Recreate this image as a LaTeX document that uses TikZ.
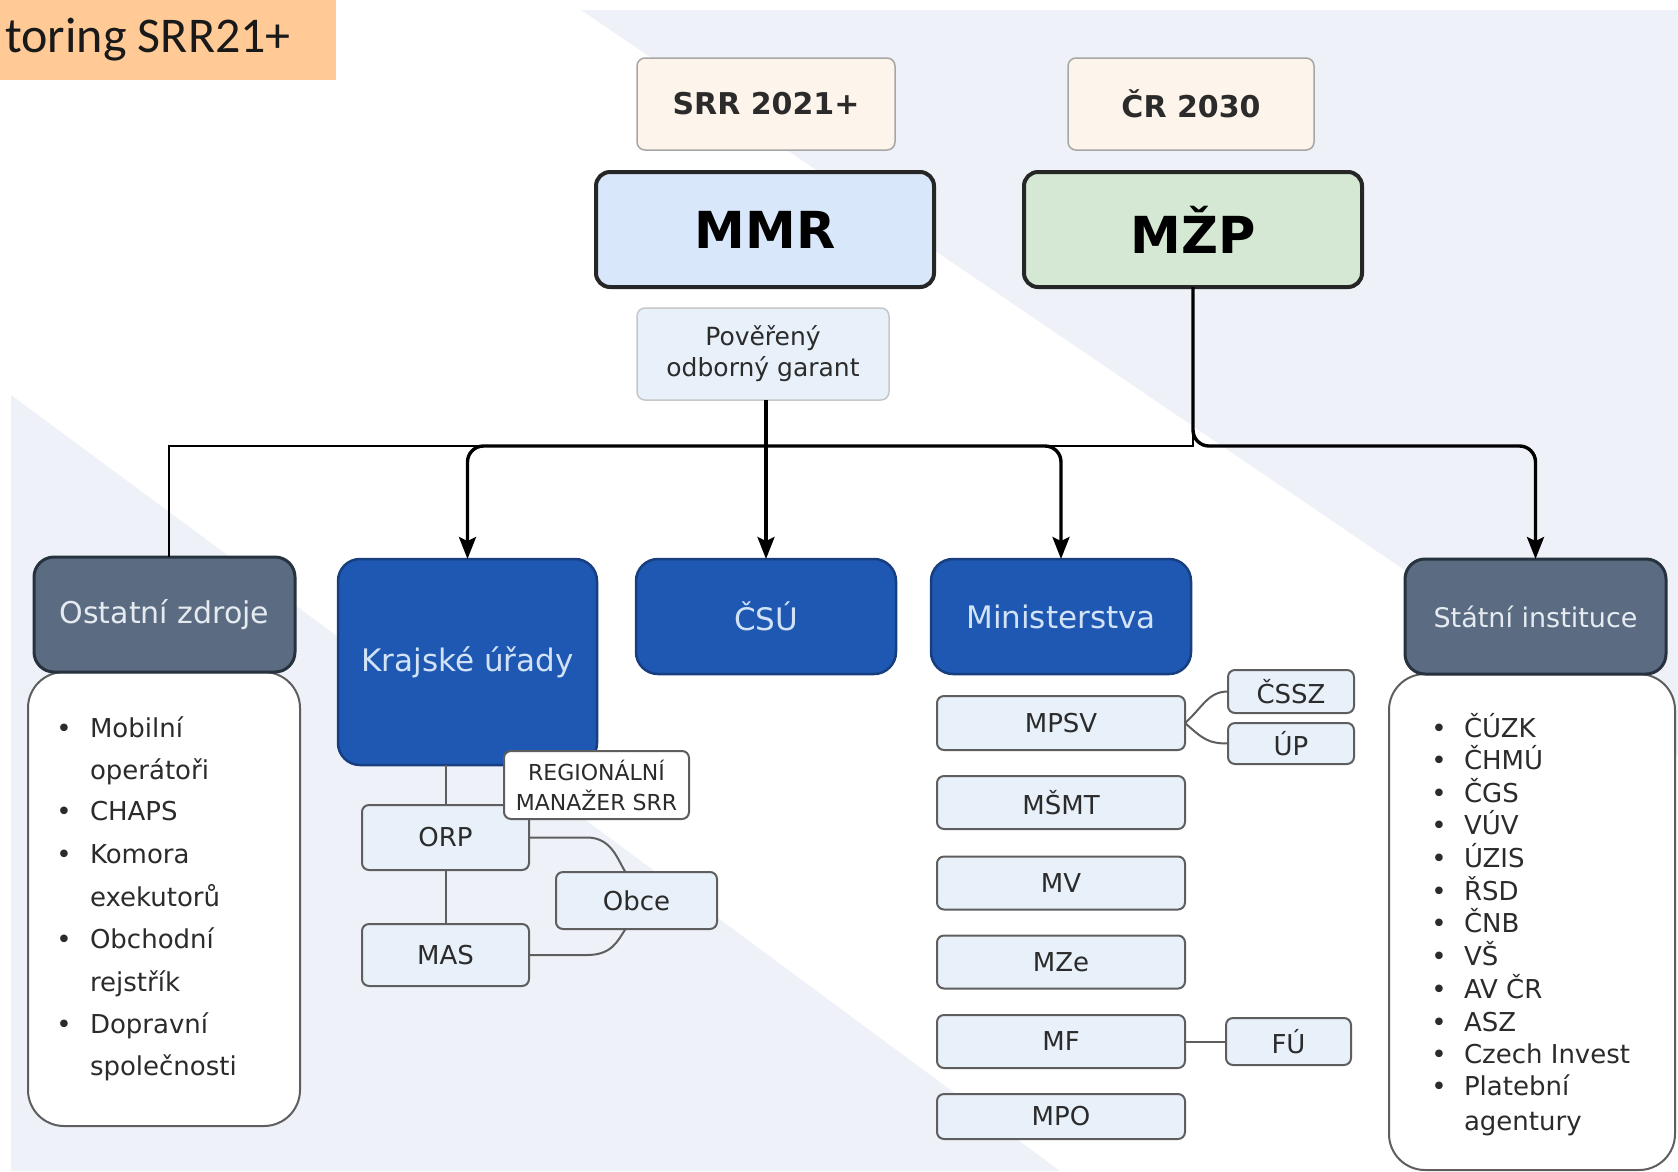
\documentclass[tikz,border=0pt]{standalone}
\usepackage{fontspec}
\setmainfont{DejaVu Sans}
\newfontfamily\titlefont{Carlito}
\usetikzlibrary{arrows.meta,calc}

\definecolor{bggray}{HTML}{EEF1F8}
\definecolor{peach}{HTML}{FFCA96}
\definecolor{creamfill}{HTML}{FDF4EB}
\definecolor{mmrfill}{HTML}{D9E7FA}
\definecolor{mzpfill}{HTML}{D5E8D4}
\definecolor{lightfill}{HTML}{E8F0FA}
\definecolor{bluefill}{HTML}{1F58B2}
\definecolor{blueline}{HTML}{173F80}
\definecolor{slatefill}{HTML}{5B6C82}
\definecolor{slateline}{HTML}{27323F}
\definecolor{graybord}{HTML}{5E5E5E}
\definecolor{txt}{HTML}{2B2B2B}
\definecolor{bluetxt}{HTML}{D3E3F7}
\definecolor{slatetxt}{HTML}{E6EBF1}

\newcommand{\fsz}[2]{\fontsize{#1}{#2}\selectfont}

\tikzset{
  base/.style={inner sep=0, outer sep=0, align=center, text=txt},
  creambox/.style={base, rectangle, rounded corners=8, draw=black!35, line width=1.5, fill=creamfill, font=\bfseries\fsz{30}{36}},
  bigbox/.style={base, rectangle, rounded corners=14, draw=black!85, line width=4, font=\bfseries\fsz{51}{60}, text=black},
  garantbox/.style={base, rectangle, rounded corners=8, draw=black!22, line width=1.5, fill=lightfill, font=\fsz{25}{31}},
  bluehead/.style={base, rectangle, rounded corners=22, fill=bluefill, draw=blueline, line width=2.5, text=bluetxt, font=\fsz{31}{36}},
  slatehead/.style={base, rectangle, rounded corners=20, fill=slatefill, draw=slateline, line width=3, text=slatetxt, font=\fsz{30}{36}},
  listbox/.style={base, rectangle, rounded corners=36, fill=white, draw=graybord, line width=2},
  subbox/.style={base, rectangle, rounded corners=7, fill=lightfill, draw=graybord, line width=2, font=\fsz{26}{31}},
  regbox/.style={base, rectangle, rounded corners=7, fill=white, draw=graybord, line width=2, font=\fsz{22}{30}},
  listtxt/.style={inner sep=0, outer sep=0, anchor=west, text=txt, font=\fsz{26}{31}, text height=19, text depth=6},
  bullettxt/.style={inner sep=0, outer sep=0, anchor=center, text=txt, font=\fsz{26}{31}, text height=19, text depth=6},
  thinline/.style={line width=2, draw=black},
  thickline/.style={line width=3.4, draw=black},
  arr/.style={-{Stealth[length=22pt,width=17pt,inset=4pt]}},
  conn/.style={line width=2, draw=graybord}
}

\begin{document}
\begin{tikzpicture}[x=1pt,y=-1pt]
% background
\fill[white] (0,0) rectangle (1678,1171);
\fill[bggray] (581,10) -- (1678,10) -- (1678,756) -- cycle;
\fill[bggray] (11,395) -- (1060,1171) -- (11,1171) -- cycle;
\useasboundingbox (0,0) rectangle (1678,1171);

% title
\node[fill=peach, inner sep=0, minimum width=336, minimum height=80, anchor=north west] (titlebox) at (0,0) {};
\node[anchor=base east, inner sep=0, font=\titlefont\fsz{50}{56}, text=black!90] (title) at (291,52) {toring SRR21+};

% top boxes
\node[creambox, minimum width=258, minimum height=92] (srr) at (766,104) {SRR 2021+};
\node[creambox, minimum width=246, minimum height=92] (cr) at (1191,104) {ČR 2030};
\node[bigbox, fill=mmrfill, minimum width=338, minimum height=115] (mmr) at (765,229.5) {MMR};
\node[bigbox, fill=mzpfill, minimum width=338, minimum height=115] (mzp) at (1193,229.5) {MŽP};
\node[garantbox, minimum width=252, minimum height=92] (garant) at (763,354) {Pověřený\\odborný garant};

% list boxes (behind headers)
\node[listbox, minimum width=272, minimum height=454] (ostL) at (164,899) {};
\node[listbox, minimum width=286, minimum height=496] (statL) at (1532,922) {};

% headers
\node[slatehead, minimum width=261, minimum height=115] (ostH) at (164.5,614.5) {Ostatní zdroje};
\node[bluehead, minimum width=259, minimum height=206] (krajske) at (467.5,662) {Krajské úřady};
\node[bluehead, minimum width=260, minimum height=115] (csu) at (766,616.5) {ČSÚ};
\node[bluehead, minimum width=260, minimum height=115] (mini) at (1061,616.5) {Ministerstva};
\node[slatehead, minimum width=261, minimum height=115, font=\fsz{27}{32}] (statH) at (1535.5,616.5) {Státní instituce};

% Krajske sub-boxes
\node[subbox, minimum width=167, minimum height=65] (orp) at (445.5,837.5) {ORP};
\node[subbox, minimum width=161, minimum height=57] (obce) at (636.5,900.5) {Obce};
\node[subbox, minimum width=167, minimum height=62] (mas) at (445.5,955) {MAS};
\node[regbox, minimum width=185, minimum height=68] (reg) at (596.5,785) {REGIONÁLNÍ\\MANAŽER SRR};

% Ministerstva sub-boxes
\node[subbox, minimum width=248, minimum height=54] (mpsv) at (1061,723) {MPSV};
\node[subbox, minimum width=248, minimum height=53] (msmt) at (1061,802.5) {MŠMT};
\node[subbox, minimum width=248, minimum height=53] (mv) at (1061,883) {MV};
\node[subbox, minimum width=248, minimum height=53] (mze) at (1061,962) {MZe};
\node[subbox, minimum width=248, minimum height=53] (mf) at (1061,1041.5) {MF};
\node[subbox, minimum width=248, minimum height=45] (mpo) at (1061,1116.5) {MPO};
\node[subbox, minimum width=126, minimum height=43] (cssz) at (1291,691.5) {ČSSZ};
\node[subbox, minimum width=126, minimum height=41] (up) at (1291,743.5) {ÚP};
\node[subbox, minimum width=125, minimum height=47] (fu) at (1288.5,1041.5) {FÚ};

% Ostatni list
\foreach \y/\t/\b in {731/Mobilní/1, 773/operátoři/0, 814/CHAPS/1, 857/Komora/1, 900/exekutorů/0, 942/Obchodní/1, 985/rejstřík/0, 1027/Dopravní/1, 1069/společnosti/0}{
  \node[listtxt] (ot\y) at (90,\y) {\t};
  \ifnum\b=1 \node[bullettxt] (ob\y) at (64,\y) {•};\fi
}
% Statni list
\foreach \y/\t/\b in {731/ČÚZK/1, 763/ČHMÚ/1, 796/ČGS/1, 828/VÚV/1, 861/ÚZIS/1, 894/ŘSD/1, 926/ČNB/1, 959/VŠ/1, 992/AV ČR/1, 1025/ASZ/1, 1057/Czech Invest/1, 1089/Platební/1, 1124/agentury/0}{
  \node[listtxt] (st\y) at (1464,\y) {\t};
  \ifnum\b=1 \node[bullettxt] (sb\y) at (1439,\y) {•};\fi
}

% connectors
\coordinate (jt) at (169,446);
\coordinate (jm) at (1193,446);
\coordinate (jg) at (765,446);
\coordinate (js) at (1400,446);

\draw[thinline] (mzp.south) -- (jm) -- (jt) -- (jt |- ostH.north);
\draw[thickline, rounded corners=16, arr] (mzp.south) |- (js) -| (statH.north);
\draw[thickline, arr] (garant.south -| csu.north) -- (csu.north);
\draw[thickline, rounded corners=16, arr] (jg) -| (krajske.north);
\draw[thickline, rounded corners=16, arr] (jg) -| (mini.north);

\draw[conn] (orp.north |- krajske.south) -- (orp.north);
\draw[conn] (orp.north) -- (orp.north -| reg.west);
\draw[conn] (orp.south) -- (mas.north);
\draw[conn] (orp.east) -- ++(58,0) .. controls +(25,0) and +(-8,-12) .. ($(obce.north)+(-11,0)$);
\draw[conn] (mas.east) -- ++(58,0) .. controls +(25,0) and +(-8,12) .. ($(obce.south)+(-11,0)$);

\draw[conn] (mpsv.east) .. controls +(18,-16) and +(-20,0) .. (cssz.west);
\draw[conn] (mpsv.east) .. controls +(18,16) and +(-20,0) .. (up.west);
\draw[conn] (mf.east) -- (fu.west);
\end{tikzpicture}
\end{document}
